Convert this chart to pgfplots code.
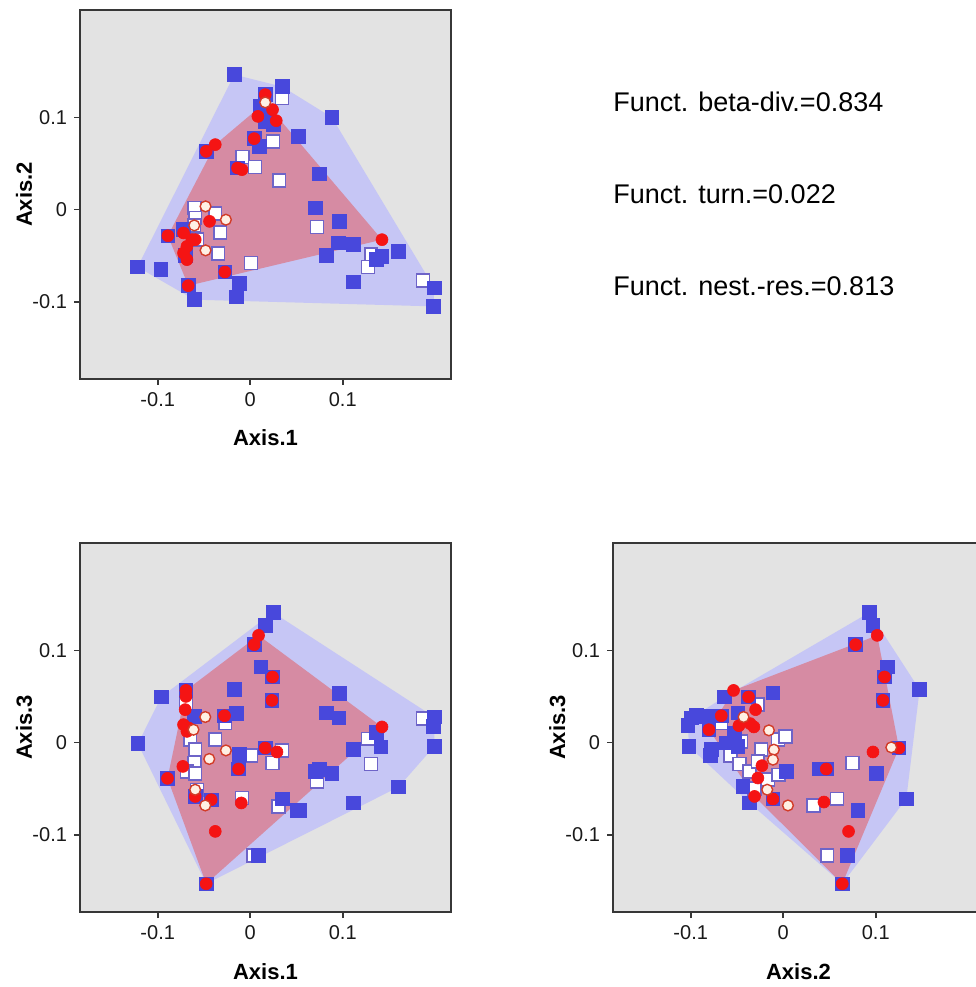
\documentclass[border=0pt]{standalone}
\usepackage{fontspec}
\setmainfont{Liberation Sans}
\usepackage{pgfplots}
\pgfplotsset{compat=1.18}
\definecolor{bgGray}{RGB}{227,227,227}
\definecolor{frameC}{RGB}{55,55,55}
\definecolor{tickC}{RGB}{25,25,25}
\definecolor{blueHull}{RGB}{198,198,245}
\definecolor{redHull}{RGB}{214,139,163}
\definecolor{blueSq}{RGB}{72,72,220}
\definecolor{redC}{RGB}{245,20,20}
\definecolor{wsqBorder}{RGB}{110,100,200}
\definecolor{wcFill}{RGB}{255,240,228}
\definecolor{wcBorder}{RGB}{210,60,40}
\pgfplotsset{
  panel/.style={
    scale only axis, width=185.5pt, height=184.5pt,
    xmin=-0.184, xmax=0.217, ymin=-0.184, ymax=0.217,
    axis background/.style={fill=bgGray},
    axis line style={draw=frameC, line width=0.9pt},
    xtick={-0.1,0,0.1}, ytick={-0.1,0,0.1},
    xticklabels={-0.1,0,0.1}, yticklabels={-0.1,0,0.1},
    tick align=outside, tick pos=left,
    major tick length=3pt,
    every tick/.style={draw=frameC, line width=0.8pt},
    ticklabel style={font=\fontsize{10}{12}\selectfont, text=tickC},
    every axis x label/.style={at={(axis description cs:0.5,0)}, anchor=base, yshift=-33.5pt, font=\fontsize{11}{13}\selectfont\bfseries},
    every axis y label/.style={at={(axis description cs:0,0.5)}, rotate=90, anchor=base, yshift=24pt, font=\fontsize{11}{13}\selectfont\bfseries},
    clip=true,
  },
  hullB/.style={fill=blueHull, draw=none, forget plot},
  hullR/.style={fill=redHull, draw=none, forget plot},
  blueS/.style={only marks, mark=square*, mark size=3.4pt, mark options={fill=blueSq, draw=blueSq, line width=0.4pt}},
  whiteS/.style={only marks, mark=square*, mark size=3.2pt, mark options={fill=white, draw=wsqBorder, line width=0.8pt}},
  redP/.style={only marks, mark=*, mark size=3pt, mark options={fill=redC, draw=redC, line width=0.3pt}},
  whiteC/.style={only marks, mark=*, mark size=2.7pt, mark options={fill=wcFill, draw=wcBorder, line width=0.7pt}},
}
\begin{document}
\begin{tikzpicture}
% ---------------- Panel 1 ----------------
\begin{axis}[panel, at={(40pt,304pt)}, anchor=south west, xlabel={Axis.1}, ylabel={Axis.2}]
\addplot[hullB] coordinates {(-0.0173,0.1467) (0.0346,0.1337) (0.0883,0.1003) (0.1989,-0.0851) (0.1982,-0.1051) (-0.0605,-0.0978) (-0.1218,-0.0623)};
\addplot[hullR] coordinates {(0.0162,0.1166) (0.1424,-0.0326) (-0.0670,-0.0826) (-0.0890,-0.0283) (-0.0378,0.0707)};
\addplot[whiteS] table {
0.0343 0.1214
0.0245 0.0742
-0.0083 0.0573
0.0051 0.0464
0.0314 0.0318
-0.0602 0.0018
-0.0378 -0.0043
-0.0324 -0.0247
-0.0346 -0.0475
0.0008 -0.0579
-0.0595 -0.0090
-0.0576 -0.0326
-0.0605 -0.0174
0.0721 -0.0188
0.1308 -0.0489
0.1272 -0.0623
0.1867 -0.0768
};
\addplot[blueS] table {
-0.0173 0.1467
0.0346 0.1337
0.0522 0.0797
0.0101 0.0688
0.0108 0.1123
0.0162 0.0960
0.0252 0.0924
-0.1218 -0.0623
-0.0965 -0.0652
-0.0605 -0.0978
-0.0151 -0.0949
-0.0116 -0.0804
-0.0476 0.0634
-0.0890 -0.0283
-0.0670 -0.0826
-0.0274 -0.0677
0.0043 0.0772
-0.0137 0.0453
0.0883 0.1003
0.0749 0.0391
0.0703 0.0018
0.0962 -0.0127
0.0955 -0.0362
0.1117 -0.0380
0.0822 -0.0500
0.1424 -0.0508
0.1362 -0.0543
0.1603 -0.0453
0.1117 -0.0786
0.1989 -0.0851
0.1982 -0.1051
-0.0724 -0.0217
-0.0703 -0.0500
0.0162 0.1250
};
\addplot[redP] table {
0.0162 0.1250
0.0241 0.1087
0.0083 0.1014
0.0281 0.0967
-0.0378 0.0707
-0.0476 0.0634
0.0043 0.0772
-0.0137 0.0453
-0.0090 0.0435
-0.0890 -0.0283
-0.0721 -0.0253
-0.0630 -0.0326
-0.0684 -0.0399
-0.0721 -0.0471
-0.0684 -0.0543
-0.0595 -0.0326
-0.0440 -0.0127
-0.0670 -0.0826
-0.0274 -0.0677
0.1424 -0.0326
};
\addplot[whiteC] table {
0.0162 0.1166
-0.0483 0.0036
-0.0263 -0.0109
-0.0605 -0.0171
-0.0483 -0.0442
};
\end{axis}
% ---------------- Panel 2 ----------------
\begin{axis}[panel, at={(40pt,37.5pt)}, anchor=south west, xlabel={Axis.1}, ylabel={Axis.3}]
\addplot[hullB] coordinates {(0.0245,0.1416) (0.1989,0.0279) (0.1989,-0.0040) (0.1603,-0.0482) (-0.0476,-0.1533) (-0.1214,-0.0011) (-0.0962,0.0497)};
\addplot[hullR] coordinates {(0.0090,0.1166) (0.1424,0.0171) (-0.0476,-0.1533) (-0.0894,-0.0388) (-0.0695,0.0568)};
\addplot[whiteS] table {
-0.0270 0.0214
-0.0649 0.0033
-0.0595 -0.0076
-0.0378 0.0033
-0.0602 -0.0221
-0.0684 -0.0312
-0.0595 -0.0337
0.0011 -0.0141
0.0241 -0.0221
0.0343 -0.0084
-0.0090 -0.0601
0.0306 -0.0692
0.0036 -0.1225
-0.0695 0.0432
-0.0576 -0.0511
0.1867 0.0261
0.1272 0.0043
0.1305 -0.0232
0.0721 -0.0421
};
\addplot[blueS] table {
0.0252 0.1416
0.0162 0.1272
0.0116 0.0823
-0.0173 0.0576
-0.0151 0.0315
-0.0602 0.0286
-0.0962 0.0497
-0.1214 -0.0011
-0.0116 -0.0130
0.0349 -0.0612
0.0505 -0.0736
0.0090 -0.1225
0.0962 0.0533
0.0822 0.0323
0.0959 0.0268
0.1989 0.0279
0.1982 0.0177
0.1362 0.0112
0.1117 -0.0076
0.1413 -0.0047
0.1989 -0.0040
0.0749 -0.0293
0.0703 -0.0312
0.0883 -0.0337
0.1603 -0.0482
0.1117 -0.0655
0.0530 -0.0736
0.0046 0.1065
0.0241 0.0714
0.0235 0.0460
-0.0894 -0.0388
-0.0476 -0.1533
-0.0126 -0.0286
-0.0695 0.0568
-0.0595 -0.0584
-0.0422 -0.0620
-0.0278 0.0293
0.0162 -0.0058
};
\addplot[redP] table {
0.0090 0.1166
0.0043 0.1065
0.0241 0.0714
0.0235 0.0460
-0.0695 0.0568
-0.0695 0.0503
-0.0703 0.0359
-0.0721 0.0196
-0.0667 0.0160
-0.0684 0.0123
-0.0278 0.0293
0.0162 -0.0058
0.0289 -0.0101
-0.0126 -0.0286
-0.0728 -0.0258
-0.0894 -0.0388
-0.0595 -0.0584
-0.0422 -0.0620
-0.0097 -0.0655
-0.0378 -0.0964
-0.0476 -0.1533
0.1424 0.0171
};
\addplot[whiteC] table {
-0.0486 0.0279
-0.0613 0.0141
-0.0263 -0.0084
-0.0443 -0.0177
-0.0595 -0.0511
-0.0486 -0.0682
};
\end{axis}
% ---------------- Panel 3 ----------------
\begin{axis}[panel, at={(306.5pt,37.5pt)}, anchor=south west, xlabel={Axis.2}, ylabel={Axis.3}]
\addplot[hullB] coordinates {(-0.1030,0.0185) (-0.0995,0.0268) (-0.0635,0.0497) (0.0933,0.1416) (0.1474,0.0576) (0.1330,-0.0609) (0.0638,-0.1533) (-0.0364,-0.0655) (-0.1019,-0.0040)};
\addplot[hullR] coordinates {(0.1016,0.1166) (0.1251,-0.0058) (0.0638,-0.1533) (-0.0310,-0.0584) (-0.0803,0.0141) (-0.0537,0.0568)};
\addplot[whiteS] table {
-0.0670 0.0214
-0.0454 0.0014
-0.0238 -0.0076
-0.0570 -0.0141
-0.0472 -0.0232
-0.0364 -0.0312
-0.0165 -0.0402
-0.0310 -0.0500
-0.0057 0.0033
-0.0274 0.0413
0.0025 0.0068
-0.0051 -0.0348
-0.0274 -0.0203
0.0749 -0.0221
0.0581 -0.0609
0.0328 -0.0682
0.0476 -0.1225
};
\addplot[blueS] table {
-0.0635 0.0497
-0.0111 0.0540
-0.0941 0.0304
-0.0832 0.0286
-0.0995 0.0268
-0.1030 0.0185
-0.1019 -0.0040
-0.0778 -0.0076
-0.0786 -0.0141
-0.0490 0.0323
-0.0526 0.0105
-0.0616 -0.0003
-0.0490 -0.0040
-0.0436 -0.0475
-0.0364 -0.0655
0.0933 0.1416
0.0970 0.1272
0.1124 0.0823
0.0032 -0.0312
0.0386 -0.0286
0.1005 -0.0337
0.1330 -0.0609
0.0808 -0.0736
0.0692 -0.1225
0.1474 0.0576
-0.0375 0.0497
-0.0670 0.0293
-0.0803 0.0141
-0.0111 -0.0612
0.0782 0.1065
0.1095 0.0714
0.1078 0.0460
0.0465 -0.0286
0.1251 -0.0058
0.0638 -0.1533
};
\addplot[redP] table {
-0.0537 0.0568
-0.0375 0.0497
-0.0299 0.0359
-0.0670 0.0293
-0.0479 0.0185
-0.0357 0.0207
-0.0317 0.0171
-0.0803 0.0141
-0.0230 -0.0250
-0.0274 -0.0384
-0.0310 -0.0584
-0.0111 -0.0612
0.1016 0.1166
0.0782 0.1065
0.1095 0.0714
0.1078 0.0460
0.0970 -0.0101
0.1251 -0.0058
0.0465 -0.0286
0.0440 -0.0645
0.0706 -0.0964
0.0638 -0.1533
};
\addplot[whiteC] table {
-0.0429 0.0279
-0.0155 0.0134
-0.0101 -0.0076
-0.0111 -0.0185
-0.0173 -0.0511
0.1168 -0.0051
0.0051 -0.0682
};
\end{axis}
% ---------------- Annotations ----------------
\node[anchor=base west, font=\fontsize{13.5}{16}\selectfont, inner sep=0pt] at (306.5pt,437.5pt) {Funct. beta-div.=0.834};
\node[anchor=base west, font=\fontsize{13.5}{16}\selectfont, inner sep=0pt] at (306.5pt,391.5pt) {Funct. turn.=0.022};
\node[anchor=base west, font=\fontsize{13.5}{16}\selectfont, inner sep=0pt] at (306.5pt,345.5pt) {Funct. nest.-res.=0.813};
\pgfresetboundingbox
\path[use as bounding box] (0,0) rectangle (488pt,493.5pt);
\end{tikzpicture}
\end{document}
